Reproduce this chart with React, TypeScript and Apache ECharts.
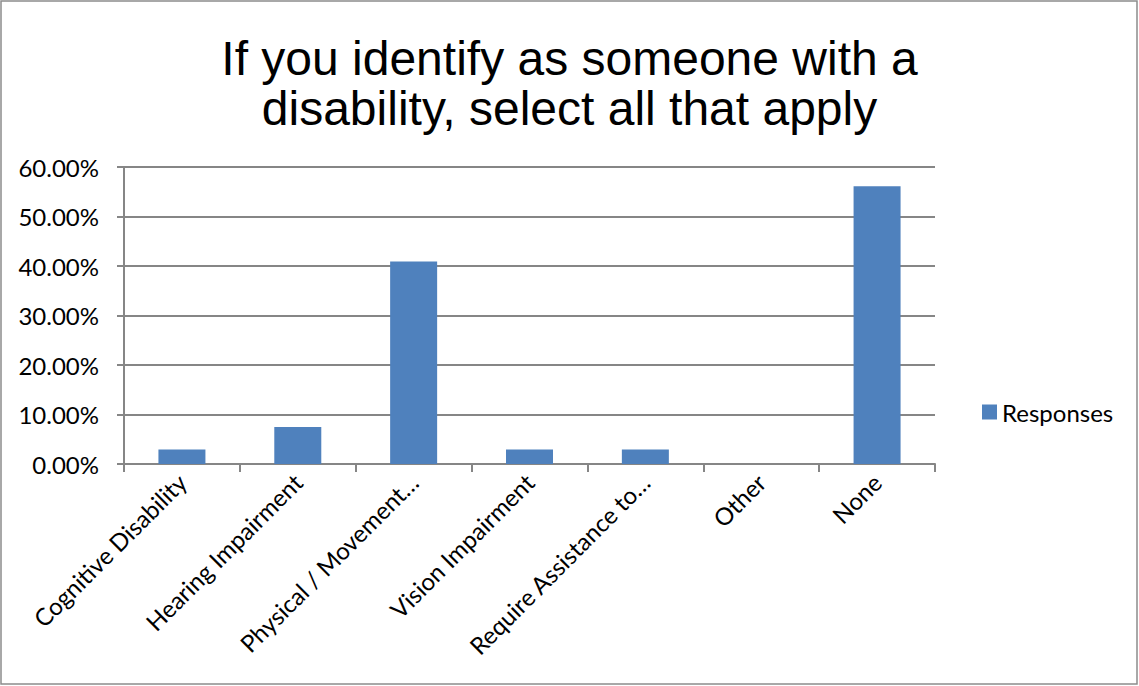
import React, { useEffect, useRef } from "react";
import * as echarts from "echarts";

const categories = [
  "Cognitive Disability",
  "Hearing Impairment",
  "Physical / Movement…",
  "Vision Impairment",
  "Require Assistance to…",
  "Other",
  "None",
];
const responses = [2.94, 7.5, 40.9, 2.94, 2.94, 0, 56.1];
const seriesName = "Responses";
const titleText = "If you identify as someone with a\ndisability, select all that apply";

export default function App() {
  const ref = useRef<HTMLDivElement>(null);
  useEffect(() => {
    if (!ref.current) return;
    const chart = echarts.init(ref.current, undefined, { renderer: "svg" });
    chart.setOption({
      animation: false,
      backgroundColor: "#ffffff",
      title: {
        text: titleText,
        left: "center",
        top: 28,
        textStyle: {
          fontFamily: "Liberation Sans",
          fontSize: 48,
          fontWeight: "normal",
          color: "#000",
          lineHeight: 50,
        },
      },
      graphic: [
        {
          type: "rect",
          shape: { x: 1, y: 1, width: 1136, height: 683 },
          style: { fill: "none", stroke: "#8c8c8c", lineWidth: 1.5 },
          silent: true,
        },
      ],
      legend: {
        data: [seriesName],
        left: 977,
        top: 395,
        itemWidth: 15,
        itemHeight: 15,
        itemGap: 8,
        icon: "rect",
        textStyle: { fontFamily: "Lato", fontSize: 24, color: "#000" },
      },
      grid: { left: 124, right: 204, top: 167, bottom: 222 },
      xAxis: {
        type: "category",
        data: categories,
        boundaryGap: true,
        axisLine: { show: true, lineStyle: { color: "#868686", width: 2 } },
        axisTick: { show: true, alignWithLabel: false, length: 8, lineStyle: { color: "#868686", width: 2 } },
        axisLabel: {
          rotate: 45,
          interval: 0,
          margin: 14,
          fontFamily: "Lato",
          fontSize: 24,
          color: "#000",
        },
      },
      yAxis: {
        type: "value",
        min: 0,
        max: 60,
        interval: 10,
        axisLine: { show: true, lineStyle: { color: "#868686", width: 2 } },
        axisTick: { show: true, length: 7, lineStyle: { color: "#868686", width: 2 } },
        splitLine: { show: true, lineStyle: { color: "#868686", width: 2 } },
        axisLabel: {
          formatter: (v: number) => v.toFixed(2) + "%",
          fontFamily: "Lato",
          fontSize: 24,
          color: "#000",
          margin: 25,
        },
      },
      series: [
        {
          name: seriesName,
          type: "bar",
          data: responses,
          barWidth: 47,
          itemStyle: { color: "#4f81bd" },
        },
      ],
    });
    return () => chart.dispose();
  }, []);
  return (
    <div
      ref={ref}
      style={{ position: "fixed", left: 0, top: 0, width: 1139, height: 686 }}
    />
  );
}
